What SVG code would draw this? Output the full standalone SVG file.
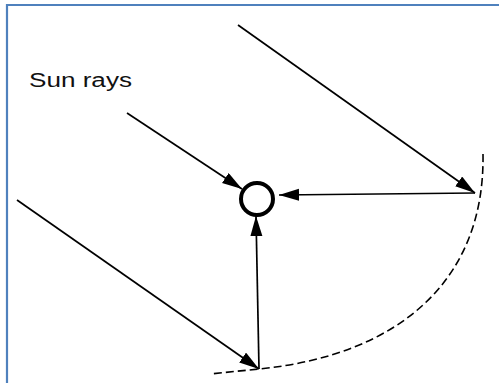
<svg xmlns="http://www.w3.org/2000/svg" width="499" height="383" viewBox="0 0 499 383">
<style>
.ray{stroke:#000;stroke-width:1.7;fill:none}
.arc{stroke:#000;stroke-width:1.6;fill:none;stroke-dasharray:8 4}
.label{font-family:"Liberation Sans",Arial,sans-serif;font-size:20px;fill:#111}
</style>
<defs>
<marker id="ah" markerUnits="userSpaceOnUse" markerWidth="22" markerHeight="13" refX="20" refY="6" orient="auto">
<path d="M0,0 L20,6 L0,12 z" fill="#000"/>
</marker>
</defs>
<rect width="499" height="383" fill="#fff"/>
<g id="frame">
<path d="M7,383 L7,5 L499,5" fill="none" stroke="#4F81BD" stroke-width="2.2"/>
</g>
<g id="label">
<text class="label" x="29" y="87" textLength="103" lengthAdjust="spacingAndGlyphs">Sun rays</text>
</g>
<g id="mirror">
<path class="arc" d="M483,154 C485,280 400,355 259,369 L210,374"/>
</g>
<g id="receiver">
<circle cx="257" cy="199" r="16" fill="none" stroke="#000" stroke-width="4"/>
</g>
<g id="connectors">
<line class="ray" x1="238" y1="25" x2="475" y2="193" marker-end="url(#ah)"/>
<line class="ray" x1="127" y1="113" x2="242" y2="189" marker-end="url(#ah)"/>
<line class="ray" x1="17" y1="200" x2="259" y2="369" marker-end="url(#ah)"/>
<line class="ray" x1="475" y1="193" x2="279" y2="195" marker-end="url(#ah)"/>
<line class="ray" x1="259" y1="369" x2="256" y2="216" marker-end="url(#ah)"/>
</g>
</svg>
